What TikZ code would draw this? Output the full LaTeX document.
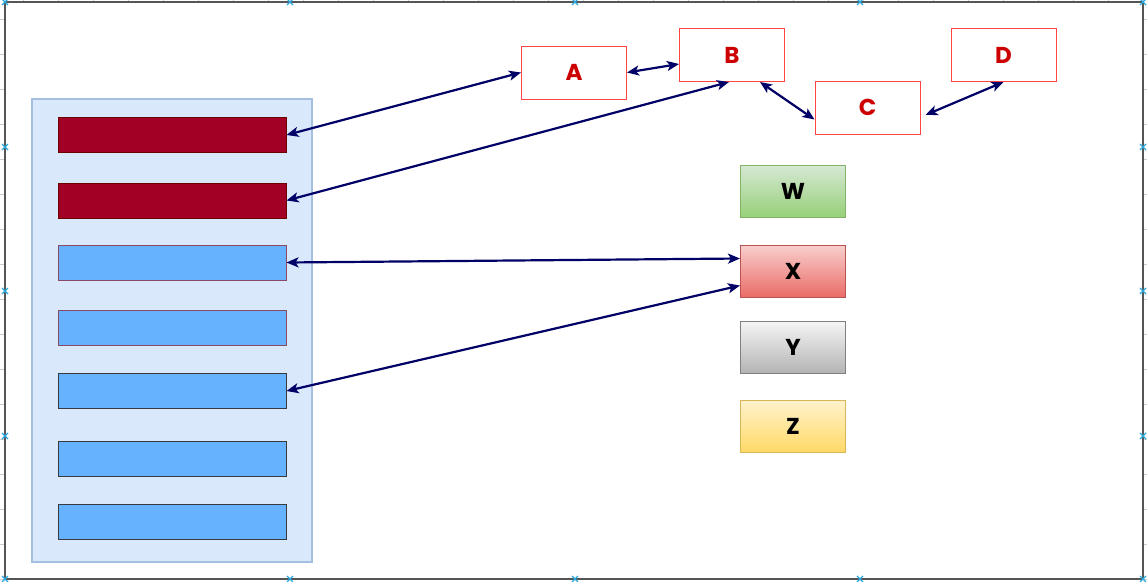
\documentclass[tikz,border=0pt]{standalone}
\usepackage{fontspec}
\setmainfont{Poppins}
\usetikzlibrary{arrows.meta,calc}
\definecolor{navy}{HTML}{000066}
\definecolor{barred}{HTML}{A20025}
\definecolor{barredline}{HTML}{6F0000}
\definecolor{barblue}{HTML}{66B2FF}
\definecolor{barbluelineA}{HTML}{8B4A66}
\definecolor{barbluelineB}{HTML}{36393D}
\definecolor{contfill}{HTML}{DAE8FC}
\definecolor{contline}{HTML}{A5BFE0}
\definecolor{boxred}{HTML}{FF4444}
\definecolor{textred}{HTML}{CC0000}
\definecolor{marker}{HTML}{29A8E0}
\definecolor{framec}{HTML}{555555}
\definecolor{tickc}{HTML}{CCCCCC}
\definecolor{wline}{HTML}{82B366}
\definecolor{wtop}{HTML}{D5E8D4}
\definecolor{wbot}{HTML}{97D077}
\definecolor{xline}{HTML}{B85450}
\definecolor{xtop}{HTML}{F8CECC}
\definecolor{xbot}{HTML}{EA6B66}
\definecolor{yline}{HTML}{808080}
\definecolor{ytop}{HTML}{F5F5F5}
\definecolor{ybot}{HTML}{B3B3B3}
\definecolor{zline}{HTML}{D6B656}
\definecolor{ztop}{HTML}{FFF2CC}
\definecolor{zbot}{HTML}{FFD966}
\begin{document}
\begin{tikzpicture}[x=1pt,y=-1pt,
  bar/.style={draw, line width=1pt, minimum width=228pt, minimum height=35pt, inner sep=0pt},
  redbox/.style={draw=boxred, fill=white, line width=1pt, minimum width=105pt, minimum height=53pt, inner sep=0pt,
     text=textred, font=\bfseries\fontsize{23}{27}\selectfont},
  gbox/.style={line width=1pt, minimum width=105pt, minimum height=52pt, inner sep=0pt,
     font=\bfseries\fontsize{23}{27}\selectfont},
  link/.style={{Stealth[length=12pt,width=10pt,inset=3pt]}-{Stealth[length=12pt,width=10pt,inset=3pt]}, draw=navy, line width=2.2pt},
  mk/.style={draw=marker, line width=1.3pt}
]
\useasboundingbox (0,0) rectangle (1147,581);
\fill[white] (0,0) rectangle (1147,581);
% ruler ticks
\foreach \x in {23,58,...,1143} \draw[tickc, line width=0.6pt] (\x,0) -- (\x,2);
\foreach \y in {19,54,...,579} {
  \draw[tickc, line width=0.6pt] (0,\y) -- (5,\y);
  \draw[tickc, line width=0.6pt] (1143,\y) -- (1147,\y);
}
% frame
\draw[framec, line width=1.5pt] (5,2) rectangle (1143,579);
% markers
\foreach \p in {(5,2),(290,2),(575,2),(860,2),(1143,2),(5,579),(290,579),(575,579),(860,579),(1143,579),(5,147),(5,291),(5,436),(1143,147),(1143,291),(1143,436)} {
  \draw[mk] \p ++(-3,-3) -- ++(6,6);
  \draw[mk] \p ++(-3,3) -- ++(6,-6);
}
% container
\node[draw=contline, fill=contfill, line width=1.2pt, minimum width=280pt, minimum height=463pt, inner sep=0pt] (cont) at (172,330.5) {};
% bars
\node[bar, fill=barred, draw=barredline] (b1) at (172,135) {};
\node[bar, fill=barred, draw=barredline] (b2) at (172,200.5) {};
\node[bar, fill=barblue, draw=barbluelineA] (b3) at (172,262.5) {};
\node[bar, fill=barblue, draw=barbluelineA] (b4) at (172,327.5) {};
\node[bar, fill=barblue, draw=barbluelineB] (b5) at (172,391) {};
\node[bar, fill=barblue, draw=barbluelineB] (b6) at (172,458.5) {};
\node[bar, fill=barblue, draw=barbluelineB] (b7) at (172,521.5) {};
% red boxes
\node[redbox] (A) at (574,72.5) {A};
\node[redbox] (B) at (732,55) {B};
\node[redbox] (C) at (867.5,107.5) {C};
\node[redbox] (D) at (1003.5,55) {D};
% gradient boxes
\node[gbox, draw=wline, top color=wtop, bottom color=wbot] (W) at (793,191.5) {W};
\node[gbox, draw=xline, top color=xtop, bottom color=xbot] (X) at (793,271.5) {X};
\node[gbox, draw=yline, top color=ytop, bottom color=ybot] (Y) at (793,347.5) {Y};
\node[gbox, draw=zline, top color=ztop, bottom color=zbot] (Z) at (793,426.5) {Z};
% connectors
\draw[link] (b1.east) -- (A.west);
\draw[link] (b2.east) -- ($(B.south)+(-3,0)$);
\draw[link] (b3.east) -- ($(X.west)+(0,-13)$);
\draw[link] (b5.east) -- ($(X.west)+(0,14)$);
\draw[link] (A.east) -- ($(B.west)+(0,9)$);
\draw[link] ($(B.south)+(28,0)$) -- ($(C.west)+(0,12)$);
\draw[link] ($(C.east)+(5,7.5)$) -- (D.south);
\end{tikzpicture}
\end{document}
